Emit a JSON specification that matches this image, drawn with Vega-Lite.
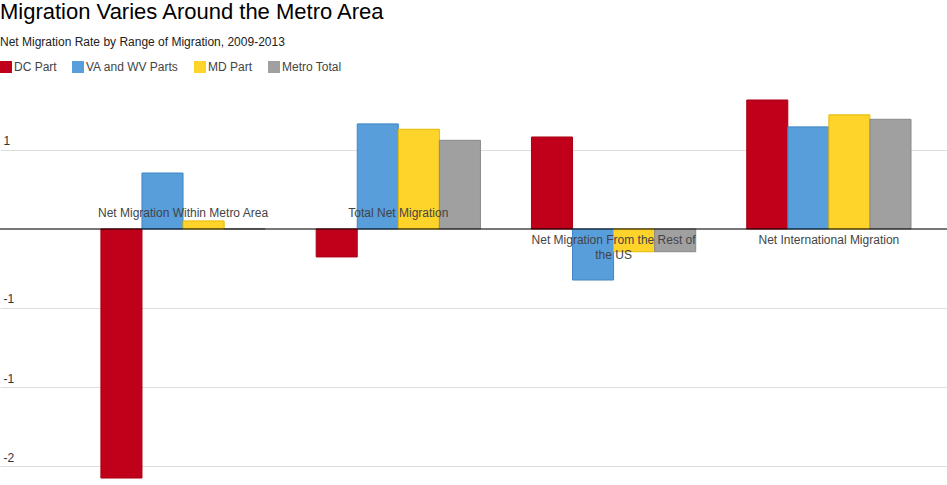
{
  "$schema": "https://vega.github.io/schema/vega-lite/v6.json",
  "width": 947,
  "height": 400,
  "autosize": {"type": "none"},
  "padding": {"left": 0, "top": 85, "right": 0, "bottom": 0},
  "background": "white",
  "config": {
    "font": "Liberation Sans",
    "view": {"stroke": null},
    "axis": {"labelFont": "Liberation Sans"},
    "legend": {"labelFont": "Liberation Sans"}
  },
  "title": {
    "text": "Migration Varies Around the Metro Area",
    "subtitle": "Net Migration Rate by Range of Migration, 2009-2013",
    "anchor": "start",
    "frame": "group",
    "fontSize": 22,
    "fontWeight": "normal",
    "color": "#000000",
    "subtitleFontSize": 12,
    "subtitleColor": "#222222",
    "subtitlePadding": 13,
    "offset": 12
  },
  "datasets": {
    "bars": [
      {"cat": "Net Migration Within Metro Area", "series": "DC Part", "value": -1.576},
      {"cat": "Net Migration Within Metro Area", "series": "VA and WV Parts", "value": 0.354},
      {"cat": "Net Migration Within Metro Area", "series": "MD Part", "value": 0.051},
      {"cat": "Net Migration Within Metro Area", "series": "Metro Total", "value": 0},
      {"cat": "Total Net Migration", "series": "DC Part", "value": -0.177},
      {"cat": "Total Net Migration", "series": "VA and WV Parts", "value": 0.665},
      {"cat": "Total Net Migration", "series": "MD Part", "value": 0.631},
      {"cat": "Total Net Migration", "series": "Metro Total", "value": 0.561},
      {"cat": "Net Migration From the Rest of the US", "series": "DC Part", "value": 0.582},
      {"cat": "Net Migration From the Rest of the US", "series": "VA and WV Parts", "value": -0.323},
      {"cat": "Net Migration From the Rest of the US", "series": "MD Part", "value": -0.144},
      {"cat": "Net Migration From the Rest of the US", "series": "Metro Total", "value": -0.144},
      {"cat": "Net International Migration", "series": "DC Part", "value": 0.816},
      {"cat": "Net International Migration", "series": "VA and WV Parts", "value": 0.646},
      {"cat": "Net International Migration", "series": "MD Part", "value": 0.722},
      {"cat": "Net International Migration", "series": "Metro Total", "value": 0.694}
    ],
    "labels": [
      {"cat": "Net Migration Within Metro Area", "label": ["Net Migration Within Metro Area"]},
      {"cat": "Total Net Migration", "label": ["Total Net Migration"]},
      {"cat": "Net Migration From the Rest of the US", "label": ["Net Migration From the Rest of", "the US"]},
      {"cat": "Net International Migration", "label": ["Net International Migration"]}
    ],
    "zero": [{"v": 0}]
  },
  "encoding": {
    "x": {
      "field": "cat",
      "type": "nominal",
      "sort": ["Net Migration Within Metro Area", "Total Net Migration", "Net Migration From the Rest of the US", "Net International Migration"],
      "scale": {"paddingInner": 0.237, "paddingOuter": 0.318, "align": 0.737},
      "axis": null
    }
  },
  "layer": [
    {
      "data": {"name": "bars"},
      "mark": {"type": "bar", "strokeWidth": 1},
      "encoding": {
        "xOffset": {
          "field": "series",
          "type": "nominal",
          "sort": ["DC Part", "VA and WV Parts", "MD Part", "Metro Total"],
          "scale": {"paddingInner": 0, "paddingOuter": 0}
        },
        "y": {
          "field": "value",
          "type": "quantitative",
          "scale": {"domain": [-1.62, 0.911], "nice": false, "zero": false},
          "axis": {
            "title": null,
            "values": [-1.5, -1, -0.5, 0, 0.5],
            "labelExpr": "datum.value == 0 ? '' : (datum.value < 0 ? '-' : '') + format(abs(datum.value), '.0f')",
            "grid": true,
            "gridColor": "#dddddd",
            "gridWidth": 1,
            "domain": false,
            "ticks": false,
            "tickSize": 0,
            "labelAlign": "left",
            "labelBaseline": "bottom",
            "labelPadding": -3,
            "labelOffset": -2,
            "labelFontSize": 12,
            "labelColor": "#333333"
          }
        },
        "fill": {
          "field": "series",
          "type": "nominal",
          "sort": ["DC Part", "VA and WV Parts", "MD Part", "Metro Total"],
          "scale": {
            "domain": ["DC Part", "VA and WV Parts", "MD Part", "Metro Total"],
            "range": ["#c0001b", "#579edb", "#ffd42a", "#a0a0a0"]
          },
          "legend": {
            "title": null,
            "orient": "none",
            "direction": "horizontal",
            "legendX": 0,
            "legendY": -24,
            "symbolType": "square",
            "symbolSize": 144,
            "symbolStrokeWidth": 0,
            "labelFontSize": 12,
            "labelColor": "#444444",
            "labelOffset": 2,
            "columnPadding": 15
          }
        },
        "stroke": {
          "field": "series",
          "type": "nominal",
          "scale": {
            "domain": ["DC Part", "VA and WV Parts", "MD Part", "Metro Total"],
            "range": ["#a80015", "#3f85c4", "#e8b800", "#888888"]
          },
          "legend": null
        }
      }
    },
    {
      "data": {"name": "zero"},
      "mark": {"type": "rule", "color": "#000000", "strokeWidth": 1},
      "encoding": {"y": {"field": "v", "type": "quantitative"}, "x": null}
    },
    {
      "data": {"name": "labels"},
      "transform": [{"filter": "datum.cat == 'Net Migration Within Metro Area' || datum.cat == 'Total Net Migration'"}],
      "mark": {"type": "text", "fontSize": 12, "color": "#444444", "baseline": "bottom", "dy": -9, "align": "center"},
      "encoding": {"y": {"datum": 0}, "text": {"field": "label"}}
    },
    {
      "data": {"name": "labels"},
      "transform": [{"filter": "datum.cat == 'Net Migration From the Rest of the US' || datum.cat == 'Net International Migration'"}],
      "mark": {"type": "text", "fontSize": 12, "color": "#444444", "baseline": "top", "dy": 6, "align": "center", "lineHeight": 15},
      "encoding": {"y": {"datum": 0}, "text": {"field": "label"}}
    }
  ]
}
